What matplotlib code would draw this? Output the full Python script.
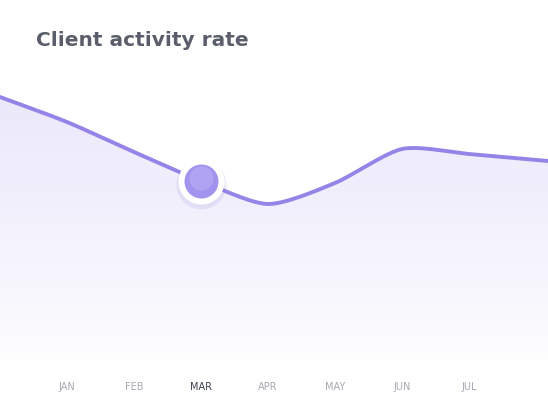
import numpy as np
import matplotlib
matplotlib.use("Agg")
import matplotlib.pyplot as plt
from matplotlib.patches import Polygon

months = ["JAN", "FEB", "MAR", "APR", "MAY", "JUN", "JUL"]
# positions: left edge, JAN..JUL, right edge
xs = [-1, 0, 1, 2, 3, 4, 5, 6, 548/67 - 1]
vals = [308, 283, 253, 224, 201, 222, 256, 251, 244]
highlight = 2  # MAR

def spline(x, y, n=40, k=0.75):
    x = np.asarray(x, float); y = np.asarray(y, float)
    px = np.concatenate([[2*x[0]-x[1]], x, [2*x[-1]-x[-2]]])
    py = np.concatenate([[2*y[0]-y[1]], y, [2*y[-1]-y[-2]]])
    ox, oy = [], []
    for i in range(1, len(px)-2):
        t = np.linspace(0, 1, n, endpoint=False)
        for arr, out in ((px, ox), (py, oy)):
            p0, p1, p2, p3 = arr[i-1], arr[i], arr[i+1], arr[i+2]
            m1 = (p2-p0)/2*k; m2 = (p3-p1)/2*k
            h00 = 2*t**3-3*t**2+1; h10 = t**3-2*t**2+t
            h01 = -2*t**3+3*t**2; h11 = t**3-t**2
            out.extend(h00*p1+h10*m1+h01*p2+h11*m2)
    ox.append(x[-1]); oy.append(y[-1])
    return np.array(ox), np.array(oy)

fig = plt.figure(figsize=(5.48, 4.06), dpi=100)
ax = fig.add_axes([0, 0, 1, 1])
x0, x1 = -1, 548/67 - 1
ax.set_xlim(x0, x1); ax.set_ylim(0, 406)
ax.axis("off")

sx, sy = spline(xs, vals)
grad = np.linspace(0, 1, 256).reshape(-1, 1)
c_top = np.array([0.925, 0.91, 0.985]); c_bot = np.array([1, 1, 1])
img = c_bot + (c_top - c_bot) * grad[:, :, None] ** 0.8
img = np.broadcast_to(img, (256, 2, 3))
im = ax.imshow(img, extent=[x0, x1, 40, 310], origin="lower", aspect="auto", zorder=1)
poly = Polygon(np.column_stack([np.r_[sx, sx[-1], sx[0]], np.r_[sy, 40, 40]]),
               closed=True, transform=ax.transData, facecolor="none", edgecolor="none")
ax.add_patch(poly)
im.set_clip_path(poly)
ax.plot(sx, sy, color="#9583e8", lw=2.8, zorder=3, solid_capstyle="round")

for i, m in enumerate(months):
    ax.text(i, 19, m, ha="center", va="center", fontsize=7,
            color="#3e4150" if i == highlight else "#a7a9b3")

hx, hy = xs[highlight+1], vals[highlight+1]
ax.scatter([hx], [hy-3], s=(50*0.72)**2, color="#7a6ac8", alpha=0.12, zorder=4, lw=0)
ax.scatter([hx], [hy], s=(46*0.72)**2, color="white", zorder=5, lw=0)
ax.scatter([hx], [hy], s=(34*0.72)**2, color="#a293ee", zorder=6, lw=0)
ax.scatter([hx], [hy+3], s=(24*0.72)**2, color="#b7abf5", zorder=6, lw=0, alpha=0.7)

fig.text(36/548, 1-40/406, "Client activity rate", fontsize=14.5, fontweight="bold",
         color="#5a5e6b", ha="left", va="center")
fig.savefig("out.png", dpi=100)
